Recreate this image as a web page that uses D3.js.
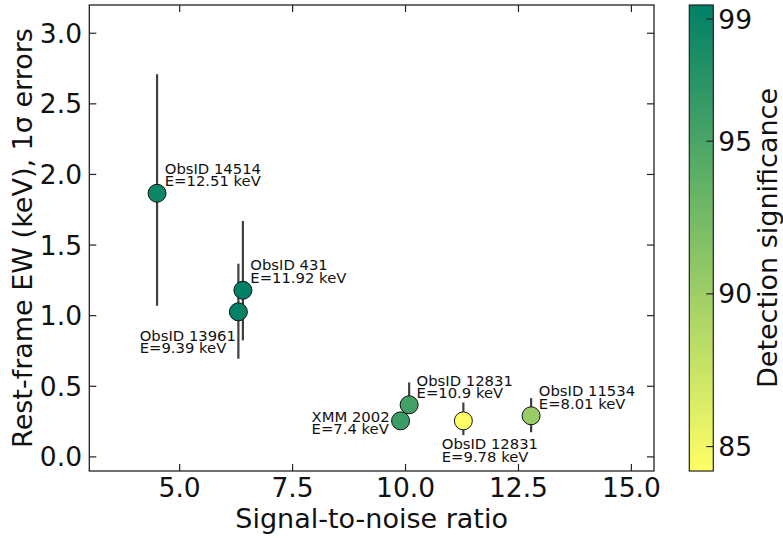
<!DOCTYPE html>
<html><head><meta charset="utf-8">
<script src="https://cdn.jsdelivr.net/npm/d3@7"></script>
<style>body{margin:0;background:#fff}svg{display:block;font-family:"DejaVu Sans",sans-serif}</style>
</head><body><svg id="c" width="783" height="538"></svg>
<script>
// ---- data ----
const names    = ["ObsID 14514","ObsID 431","ObsID 13961","XMM 2002","ObsID 12831","ObsID 12831","ObsID 11534"];
const energies = ["E=12.51 keV","E=11.92 keV","E=9.39 keV","E=7.4 keV","E=10.9 keV","E=9.78 keV","E=8.01 keV"];
const snr      = [4.50, 6.40, 6.30, 9.89, 10.08, 11.28, 12.78];
const ew       = [1.867, 1.18, 1.027, 0.255, 0.369, 0.255, 0.291];
const ewLow    = [1.07, 0.825, 0.695, 0.21, 0.31, 0.154, 0.175];
const ewHigh   = [2.71, 1.67, 1.368, 0.30, 0.527, 0.385, 0.416];
const signif   = [98.6, 99.46, 99.3, 95.9, 95.5, 84.2, 90.3];
const xTicks   = [5.0, 7.5, 10.0, 12.5, 15.0];
const yTicks   = [0.0, 0.5, 1.0, 1.5, 2.0, 2.5, 3.0];
const cTicks   = [85, 90, 95, 99];
const cRange   = [84.2, 99.46];
// label layout (pixel offsets of text block from marker centre)
const labelDx  = [7.7, 7.4, -98.7, -89, 7.4, -21.6, 7.7];
const labelDy  = [-19.7, -20, 28.7, 0.7, -19, 28.3, -19.3];

const svg = d3.select("#c");
const L = 89.3, R = 654, T = 5, B = 471;
const x = d3.scaleLinear().domain([3.0, 15.5]).range([L, R]);
const y = d3.scaleLinear().domain([-0.1, 3.2]).range([B, T]);
const summerR = t => { const s = 1 - t; return d3.rgb(255*s, 255*(0.5+0.5*s), 0.4*255); };
const cnorm = d3.scaleLinear().domain(cRange).range([0, 1]).clamp(true);
const color = v => summerR(cnorm(v));

const TL = 7, FS = 26.5;
// axes frame
const g = svg.append("g");
// x axis ticks (bottom & top, inward)
xTicks.forEach(v => {
  g.append("line").attr("x1", x(v)).attr("x2", x(v)).attr("y1", B).attr("y2", B - TL).attr("stroke", "#222").attr("stroke-width", 1.2);
  g.append("line").attr("x1", x(v)).attr("x2", x(v)).attr("y1", T).attr("y2", T + TL).attr("stroke", "#222").attr("stroke-width", 1.2);
  g.append("text").attr("x", x(v)).attr("y", 497).attr("text-anchor", "middle").attr("font-size", FS).attr("fill", "#111").text(d3.format(".1f")(v));
});
yTicks.forEach(v => {
  g.append("line").attr("x1", L).attr("x2", L + TL).attr("y1", y(v)).attr("y2", y(v)).attr("stroke", "#222").attr("stroke-width", 1.2);
  g.append("line").attr("x1", R).attr("x2", R - TL).attr("y1", y(v)).attr("y2", y(v)).attr("stroke", "#222").attr("stroke-width", 1.2);
  g.append("text").attr("x", 82).attr("y", y(v)).attr("dy", "0.36em").attr("text-anchor", "end").attr("font-size", FS).attr("fill", "#111").text(d3.format(".1f")(v));
});
g.append("rect").attr("x", L).attr("y", T).attr("width", R - L).attr("height", B - T).attr("fill", "none").attr("stroke", "#222").attr("stroke-width", 1.3);

// axis labels
svg.append("text").attr("x", (L + R) / 2).attr("y", 528).attr("text-anchor", "middle").attr("font-size", 27).attr("fill", "#111").text("Signal-to-noise ratio");
svg.append("text").attr("transform", `translate(32,${(T + B) / 2}) rotate(-90)`).attr("text-anchor", "middle").attr("font-size", 27).attr("fill", "#111").text("Rest-frame EW (keV), 1σ errors");

// data
const idx = d3.range(snr.length);
svg.append("g").selectAll("line").data(idx).join("line")
  .attr("x1", i => x(snr[i])).attr("x2", i => x(snr[i]))
  .attr("y1", i => y(ewLow[i])).attr("y2", i => y(ewHigh[i]))
  .attr("stroke", "#404040").attr("stroke-width", 2.2);
svg.append("g").selectAll("circle").data(idx).join("circle")
  .attr("cx", i => x(snr[i])).attr("cy", i => y(ew[i])).attr("r", 9)
  .attr("fill", i => color(signif[i])).attr("stroke", "#111").attr("stroke-width", 1);
const lab = svg.append("g").attr("font-size", 14.8).attr("fill", "#111");
idx.forEach(i => {
  const px = x(snr[i]) + labelDx[i], py = y(ew[i]) + labelDy[i];
  lab.append("text").attr("x", px).attr("y", py).text(names[i]);
  lab.append("text").attr("x", px).attr("y", py + 12.6).text(energies[i]);
});

// colorbar
const CX = 689.3, CW = 24;
const cy = d3.scaleLinear().domain(cRange).range([B, T]);
const grad = svg.append("defs").append("linearGradient").attr("id", "cg").attr("x1", 0).attr("y1", 1).attr("x2", 0).attr("y2", 0);
d3.range(0, 1.0001, 0.1).forEach(t => grad.append("stop").attr("offset", t).attr("stop-color", summerR(t)));
svg.append("rect").attr("x", CX).attr("y", T).attr("width", CW).attr("height", B - T).attr("fill", "url(#cg)").attr("stroke", "#222").attr("stroke-width", 1.2);
cTicks.forEach(v => {
  svg.append("line").attr("x1", CX + CW).attr("x2", CX + CW - TL).attr("y1", cy(v)).attr("y2", cy(v)).attr("stroke", "#222").attr("stroke-width", 1.2);
  svg.append("text").attr("x", 718.3).attr("y", cy(v)).attr("dy", "0.36em").attr("font-size", FS).attr("fill", "#111").text(v);
});
svg.append("text").attr("transform", `translate(777,${(T + B) / 2}) rotate(-90)`).attr("text-anchor", "middle").attr("font-size", 27).attr("fill", "#111").text("Detection significance");
</script></body></html>
